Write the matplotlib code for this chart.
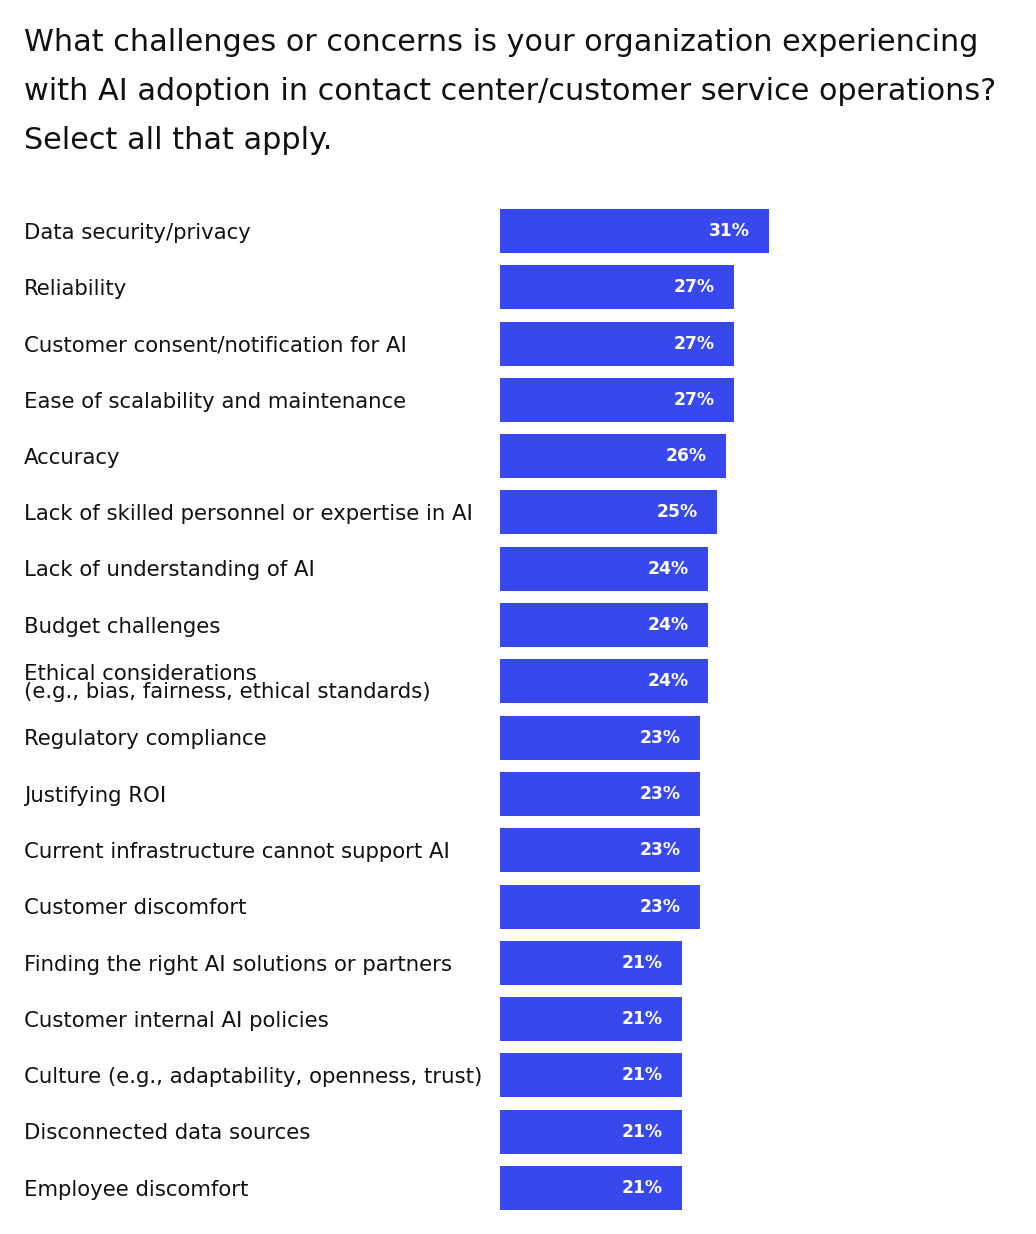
import matplotlib.pyplot as plt
import matplotlib.transforms as mtransforms

# ── Data ──
categories = [
    "Data security/privacy",
    "Reliability",
    "Customer consent/notification for AI",
    "Ease of scalability and maintenance",
    "Accuracy",
    "Lack of skilled personnel or expertise in AI",
    "Lack of understanding of AI",
    "Budget challenges",
    "Ethical considerations\n(e.g., bias, fairness, ethical standards)",
    "Regulatory compliance",
    "Justifying ROI",
    "Current infrastructure cannot support AI",
    "Customer discomfort",
    "Finding the right AI solutions or partners",
    "Customer internal AI policies",
    "Culture (e.g., adaptability, openness, trust)",
    "Disconnected data sources",
    "Employee discomfort",
]
values = [31, 27, 27, 27, 26, 25, 24, 24, 24, 23, 23, 23, 23, 21, 21, 21, 21, 21]

TITLE_LINES = [
    "What challenges or concerns is your organization experiencing",
    "with AI adoption in contact center/customer service operations?",
    "Select all that apply.",
]

BAR_C = "#3648EE"
TXT_C = "#111111"
FONT = "DejaVu Sans"

W, H = 1036, 1234
fig = plt.figure(figsize=(W / 100, H / 100), dpi=100)
fig.patch.set_facecolor("white")

# axes placed in pixel terms: bars start at x=500px, 8.68 px per percent
left = 500 / W
width = 520 / W
top_px, bot_px = 202.8, 1216.2
ax = fig.add_axes([left, 1 - bot_px / H, width, (bot_px - top_px) / H])
ax.set_xlim(0, 520 / 8.68)
n = len(categories)
ax.set_ylim(n - 0.5, -0.5)
ax.axis("off")

ypos = list(range(n))
ax.barh(ypos, values, height=0.78, color=BAR_C)

# category labels: figure x, data y
lab_tr = mtransforms.blended_transform_factory(fig.transFigure, ax.transData)
for y, v, lbl in zip(ypos, values, categories):
    ax.annotate(f"{v}%", xy=(v, y), xytext=(-14, 0), textcoords="offset points",
                ha="right", va="center", color="white", fontsize=12.3,
                fontweight="bold", family=FONT)
    fig.text(24 / W, y + 0.03, lbl, transform=lab_tr,
             ha="left", va="center", fontsize=15.3, color=TXT_C,
             family=FONT, linespacing=0.9)

# title, one line at a time
for i, line in enumerate(TITLE_LINES):
    fig.text(24 / W, 1 - (51 + 49 * i) / H, line, ha="left", va="baseline",
             fontsize=21.8, color=TXT_C, family=FONT)

fig.savefig("out.png", dpi=100, facecolor="white")
